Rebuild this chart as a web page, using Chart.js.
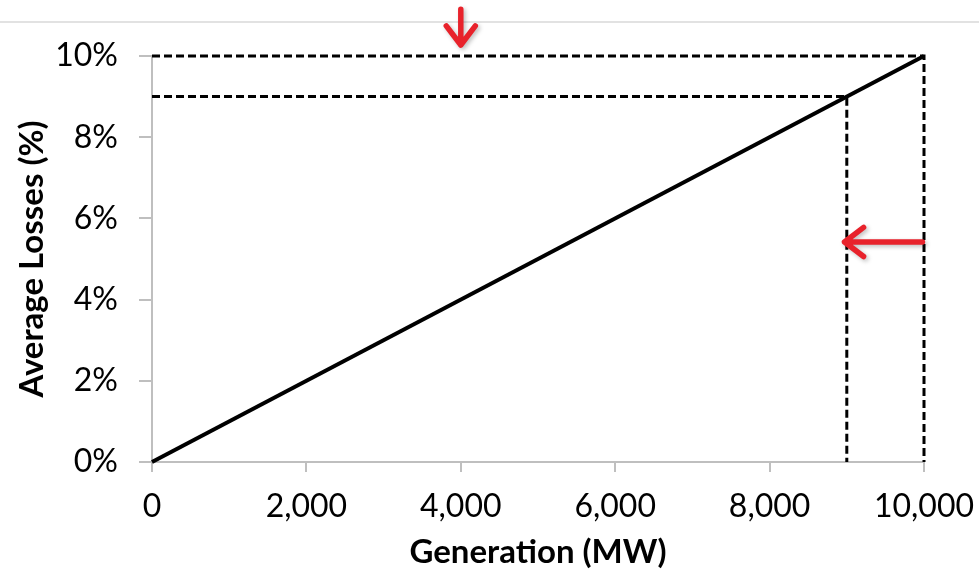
<!DOCTYPE html>
<html>
<head>
<meta charset="utf-8">
<script src="https://cdn.jsdelivr.net/npm/chart.js@4.4.1/dist/chart.umd.min.js"></script>
<style>
  html, body { margin: 0; padding: 0; background: #ffffff; }
  #lossChart { display: block; }
</style>
</head>
<body>
<canvas id="lossChart" width="979" height="576"></canvas>
<script>
// Average losses grow linearly with generation
const generationMW = [0, 10000];
const lossPercent = [0, 10];

// Dashed guide lines: full output and the reduced point
const fullGen = 10000, fullLoss = 10;
const reducedGen = 9000, reducedLoss = 9;

// Where the two red arrows sit (data units)
const downArrowGen = 4000;
const downArrowLoss = [11.15, 10.27];  // shaft top, tip
const leftArrowLoss = 5.42;
const leftArrowGen = [9980, 8970];     // shaft start, tip

const axisGrey = '#bfbfbf';
const arrowRed = '#e8222b';

// Light rule across the top of the page
const topRule = {
    id: 'topRule',
    beforeDraw(chart) {
        const ctx = chart.ctx;
        ctx.save();
        ctx.strokeStyle = '#d9d9d9';
        ctx.lineWidth = 1.5;
        ctx.beginPath();
        ctx.moveTo(0, 22);
        ctx.lineTo(chart.width, 22);
        ctx.stroke();
        ctx.restore();
    }
};

function drawArrow(ctx, x1, y1, x2, y2) {
    const ang = Math.atan2(y2 - y1, x2 - x1);
    const head = 24, spread = 0.65;
    ctx.beginPath();
    ctx.moveTo(x1, y1);
    ctx.lineTo(x2, y2);
    ctx.moveTo(x2 - head * Math.cos(ang - spread), y2 - head * Math.sin(ang - spread));
    ctx.lineTo(x2, y2);
    ctx.lineTo(x2 - head * Math.cos(ang + spread), y2 - head * Math.sin(ang + spread));
    ctx.stroke();
}

// Red arrows placed through the scales
const redArrows = {
    id: 'redArrows',
    afterDraw(chart) {
        const { ctx, scales: { x, y } } = chart;
        ctx.save();
        ctx.strokeStyle = arrowRed;
        ctx.lineWidth = 5.5;
        ctx.lineCap = 'round';
        ctx.lineJoin = 'round';
        ctx.shadowColor = 'rgba(0,0,0,0.25)';
        ctx.shadowBlur = 4;
        ctx.shadowOffsetX = 2;
        ctx.shadowOffsetY = 2;
        const ax = x.getPixelForValue(downArrowGen);
        drawArrow(ctx, ax, y.getPixelForValue(downArrowLoss[0]), ax, y.getPixelForValue(downArrowLoss[1]));
        const ay = y.getPixelForValue(leftArrowLoss);
        drawArrow(ctx, x.getPixelForValue(leftArrowGen[0]), ay, x.getPixelForValue(leftArrowGen[1]), ay);
        ctx.restore();
    }
};

const dashStyle = {
    borderColor: '#000000',
    borderWidth: 3,
    borderDash: [8, 4],
    pointRadius: 0,
    fill: false,
    tension: 0,
    clip: false
};

new Chart(document.getElementById('lossChart'), {
    type: 'line',
    data: {
        datasets: [
            {
                label: 'Average Losses',
                data: generationMW.map((g, i) => ({ x: g, y: lossPercent[i] })),
                borderColor: '#000000',
                borderWidth: 4,
                pointRadius: 0,
                fill: false,
                clip: false
            },
            Object.assign({
                label: 'Full output',
                data: [{ x: 0, y: fullLoss }, { x: fullGen, y: fullLoss }, { x: fullGen, y: 0 }]
            }, dashStyle),
            Object.assign({
                label: 'Reduced output',
                data: [{ x: 0, y: reducedLoss }, { x: reducedGen, y: reducedLoss }, { x: reducedGen, y: 0 }]
            }, dashStyle)
        ]
    },
    options: {
        responsive: false,
        animation: false,
        layout: { padding: { top: 56, right: 55, left: 0, bottom: 0 } },
        plugins: {
            legend: { display: false },
            tooltip: { enabled: false }
        },
        scales: {
            x: {
                type: 'linear',
                min: 0,
                max: 10000,
                afterFit: (s) => { s.height = 114; s.paddingLeft = 0; s.paddingRight = 0; },
                ticks: {
                    stepSize: 2000,
                    color: '#000000',
                    padding: 15,
                    font: { family: 'Lato', size: 32 },
                    maxRotation: 0,
                    callback: (v) => v.toLocaleString('en-US')
                },
                grid: { drawOnChartArea: false, tickLength: 10, color: axisGrey, lineWidth: 2 },
                border: { color: axisGrey, width: 2 },
                title: {
                    display: true,
                    text: 'Generation (MW)',
                    color: '#000000',
                    font: { family: 'Lato', size: 33, weight: 'bold' },
                    padding: { top: 2, bottom: 4 }
                }
            },
            y: {
                min: 0,
                max: 10,
                afterFit: (s) => { s.width = 152; },
                ticks: {
                    stepSize: 2,
                    color: '#000000',
                    padding: 21,
                    font: { family: 'Lato', size: 32 },
                    callback: (v) => v + '%'
                },
                grid: { drawOnChartArea: false, tickLength: 13, color: axisGrey, lineWidth: 2 },
                border: { color: axisGrey, width: 2 },
                title: {
                    display: true,
                    text: 'Average Losses (%)',
                    color: '#000000',
                    font: { family: 'Lato', size: 33, weight: 'bold' },
                    padding: { top: 13, bottom: 4 }
                }
            }
        }
    },
    plugins: [topRule, redArrows]
});
</script>
</body>
</html>
